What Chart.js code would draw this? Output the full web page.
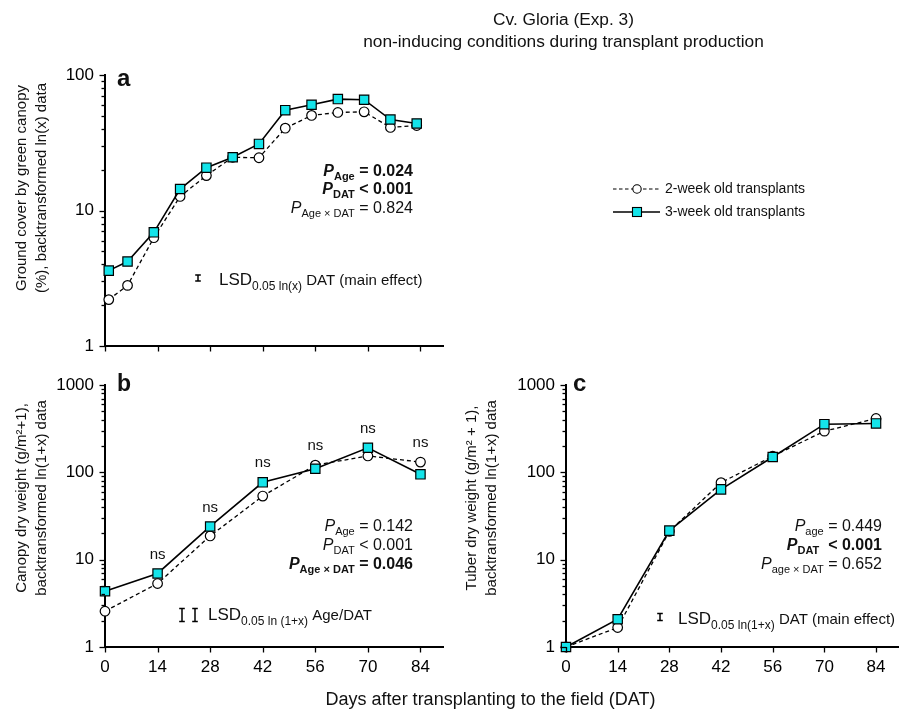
<!DOCTYPE html>
<html><head><meta charset="utf-8">
<script src="https://cdn.jsdelivr.net/npm/chart.js@4.4.1/dist/chart.umd.min.js"></script>
<style>
html,body{margin:0;padding:0;background:#fff;}
#wrap{position:relative;width:906px;height:712px;background:#fff;}
#wrap canvas{position:absolute;left:0;top:0;}
</style></head><body>
<div id="wrap">
<canvas id="ca" width="906" height="712"></canvas>
<canvas id="cb" width="906" height="712"></canvas>
<canvas id="cc" width="906" height="712"></canvas>
</div>
<script>
// ---------------- data ----------------
const daysA = [1, 6, 13, 20, 27, 34, 41, 48, 55, 62, 69, 76, 83];
const coverWeek2 = [2.2, 2.8, 6.3, 12.7, 18.1, 24.7, 24.5, 40.5, 50.3, 52.9, 53.5, 41.0, 42.4];
const coverWeek3 = [3.6, 4.2, 6.9, 14.4, 20.7, 24.7, 31.0, 55.0, 60.3, 66.4, 65.7, 46.9, 43.9];
const daysBC = [0, 14, 28, 42, 56, 70, 84];
const canopyWeek2 = [2.57, 5.33, 18.7, 53.5, 121, 154, 131];
const canopyWeek3 = [4.35, 6.95, 24.0, 76.8, 110, 191, 94.9];
const tuberWeek2 = [1.0, 1.67, 21.1, 76.2, 153, 296, 414];
const tuberWeek3 = [1.0, 2.08, 21.5, 63.8, 150, 356, 363];
const xTickValues = [0, 14, 28, 42, 56, 70, 84];
const yTicksA = [1, 10, 100];
const yTicksBC = [1, 10, 100, 1000];
const nsDays = [14, 28, 42, 56, 70, 84];
const seriesNames = ['2-week old transplants', '3-week old transplants'];

// ---------------- style ----------------
const FONT = '"Liberation Sans", Arial, Helvetica, sans-serif';
const CYAN = '#14e4ea';
Chart.defaults.font.family = FONT;
Chart.defaults.color = '#000';

function fontStr(size, st) {
  st = st || '';
  return (st.includes('i') ? 'italic ' : '') + (st.includes('b') ? 'bold ' : '') + size + 'px ' + FONT;
}
// segs: [text, size, style, dy]
function rich(ctx, segs, x, y, align) {
  let w = 0;
  const ws = segs.map(s => { ctx.font = fontStr(s[1], s[2]); const m = ctx.measureText(s[0]).width; w += m; return m; });
  let cx = align === 'right' ? x - w : (align === 'center' ? x - w / 2 : x);
  ctx.textAlign = 'left';
  ctx.textBaseline = 'alphabetic';
  segs.forEach((s, i) => { ctx.font = fontStr(s[1], s[2]); ctx.fillText(s[0], cx, y + (s[3] || 0)); cx += ws[i]; });
}
function ibar(ctx, x, y, h) {
  ctx.beginPath();
  ctx.moveTo(x, y - h / 2); ctx.lineTo(x, y + h / 2);
  ctx.moveTo(x - 2.8, y - h / 2); ctx.lineTo(x + 2.8, y - h / 2);
  ctx.moveTo(x - 2.8, y + h / 2); ctx.lineTo(x + 2.8, y + h / 2);
  ctx.stroke();
}

const annotPlugin = {
  id: 'annot',
  afterDraw(chart, args, o) {
    const ctx = chart.ctx;
    const ca = chart.chartArea;
    const xs = chart.scales.x, ys = chart.scales.y;
    ctx.save();
    ctx.strokeStyle = '#000';
    ctx.fillStyle = '#000';
    ctx.lineWidth = 1.3;
    // y ticks (major + minor) outward
    const maxExp = Math.round(Math.log10(ys.max));
    for (let d = 0; d <= maxExp; d++) {
      for (let m = 1; m <= 9; m++) {
        const v = m * Math.pow(10, d);
        if (v > ys.max + 1e-9) break;
        const py = Math.round(ys.getPixelForValue(v)) + 0.5;
        const len = m === 1 ? 5.5 : 3.5;
        ctx.beginPath(); ctx.moveTo(ca.left - len, py); ctx.lineTo(ca.left, py); ctx.stroke();
      }
    }
    // x ticks outward
    xTickValues.forEach(v => {
      const px = Math.round(xs.getPixelForValue(v)) + 0.5;
      ctx.beginPath(); ctx.moveTo(px, ca.bottom); ctx.lineTo(px, ca.bottom + 5.5); ctx.stroke();
    });
    ctx.fillStyle = '#111';
    // panel letter
    if (o.letter) { ctx.font = fontStr(o.letter.size, 'b'); ctx.textAlign = 'left'; ctx.textBaseline = 'alphabetic'; ctx.fillText(o.letter.t, o.letter.x, o.letter.y); }
    // y title
    if (o.ytitle) {
      o.ytitle.lines.forEach((t, i) => {
        ctx.save();
        ctx.translate(o.ytitle.x[i], o.ytitle.y);
        ctx.rotate(-Math.PI / 2);
        ctx.font = fontStr(15, '');
        ctx.textAlign = 'center'; ctx.textBaseline = 'middle';
        ctx.fillText(t, 0, 0);
        ctx.restore();
      });
    }
    // P values
    if (o.p) o.p.lines.forEach((segs, i) => rich(ctx, segs, o.p.x, o.p.ys[i] + 5.7, 'right'));
    // LSD
    if (o.lsd) {
      ctx.lineWidth = 1.5;
      o.lsd.bars.forEach(b => ibar(ctx, b[0], b[1], b[2]));
      rich(ctx, o.lsd.segs, o.lsd.x, o.lsd.y + 6, 'left');
    }
    // ns labels above the higher point
    if (o.ns) {
      ctx.font = fontStr(15, '');
      ctx.textAlign = 'center'; ctx.textBaseline = 'middle';
      const d0 = chart.data.datasets[0].data, d1 = chart.data.datasets[1].data;
      nsDays.forEach(day => {
        const a = d0.find(p => p.x === day), b = d1.find(p => p.x === day);
        const top = Math.max(a.y, b.y);
        ctx.fillText('ns', xs.getPixelForValue(day), ys.getPixelForValue(top) - 19);
      });
    }
    // legend
    if (o.legend) {
      const lx0 = 613, lx1 = 660, mx = 637;
      const rows = [{y: 189, dash: [3.5, 2.5], w: 1.2, name: seriesNames[0], circle: true},
                    {y: 212, dash: [], w: 1.6, name: seriesNames[1], circle: false}];
      rows.forEach(r => {
        ctx.save();
        ctx.setLineDash(r.dash); ctx.lineWidth = r.w; ctx.strokeStyle = '#000';
        ctx.beginPath(); ctx.moveTo(lx0, r.y); ctx.lineTo(lx1, r.y); ctx.stroke();
        ctx.setLineDash([]); ctx.lineWidth = 1.1;
        if (r.circle) { ctx.fillStyle = '#fff'; ctx.beginPath(); ctx.arc(mx, r.y, 4.2, 0, Math.PI * 2); ctx.fill(); ctx.stroke(); }
        else { ctx.fillStyle = CYAN; ctx.fillRect(mx - 4.5, r.y - 4.5, 9, 9); ctx.strokeRect(mx - 4.5, r.y - 4.5, 9, 9); }
        ctx.restore();
        ctx.fillStyle = '#111';
        ctx.font = fontStr(14, ''); ctx.textAlign = 'left'; ctx.textBaseline = 'middle';
        ctx.fillText(r.name, 665, r.y + 0.5);
      });
    }
    // figure titles
    if (o.titles) {
      ctx.fillStyle = '#111';
      ctx.font = fontStr(17.3, ''); ctx.textAlign = 'center'; ctx.textBaseline = 'middle';
      ctx.fillText('Cv. Gloria (Exp. 3)', 563.5, 20);
      ctx.fillText('non-inducing conditions during transplant production', 563.5, 42);
      ctx.font = fontStr(18, '');
      ctx.fillText('Days after transplanting to the field (DAT)', 490.5, 700);
    }
    ctx.restore();
  }
};

function datasets(xs, week2, week3) {
  return [
    { label: seriesNames[1], data: xs.map((x, i) => ({x: x, y: week3[i]})),
      borderColor: '#000', borderWidth: 1.6, tension: 0, clip: false,
      pointStyle: 'rect', pointRadius: 6.6, pointBackgroundColor: CYAN, pointBorderColor: '#000', pointBorderWidth: 1.2 },
    { label: seriesNames[0], data: xs.map((x, i) => ({x: x, y: week2[i]})),
      borderColor: '#000', borderWidth: 1.3, borderDash: [4, 3], tension: 0, clip: false,
      pointStyle: 'circle', pointRadius: 4.8, pointBackgroundColor: '#fff', pointBorderColor: '#000', pointBorderWidth: 1.2 }
  ];
}

function makeChart(id, cfg) {
  return new Chart(document.getElementById(id), {
    type: 'line',
    data: { datasets: datasets(cfg.xs, cfg.w2, cfg.w3) },
    options: {
      responsive: false, animation: false, devicePixelRatio: 1, events: [],
      layout: { padding: cfg.padding },
      plugins: { legend: { display: false }, tooltip: { enabled: false }, annot: cfg.annot },
      scales: {
        x: { type: 'linear', min: 0, max: 90,
             afterBuildTicks: s => { s.ticks = xTickValues.map(v => ({value: v})); },
             afterFit: s => { s.height = cfg.xh; },
             grid: { display: false, drawTicks: false },
             border: { display: true, color: '#000', width: 2 },
             ticks: { display: cfg.xlabels, padding: 10, maxRotation: 0, autoSkip: false, font: { size: 17 }, color: '#000', callback: v => String(v) } },
        y: { type: 'logarithmic', min: 1, max: cfg.ymax,
             afterBuildTicks: s => { s.ticks = cfg.yticks.map(v => ({value: v})); },
             afterFit: s => { s.width = cfg.yw; },
             grid: { display: false, drawTicks: false },
             border: { display: true, color: '#000', width: 2 },
             ticks: { padding: 11, autoSkip: false, font: { size: 17 }, color: '#000', callback: v => String(v) } }
      }
    },
    plugins: [annotPlugin]
  });
}

makeChart('ca', {
  xs: daysA, w2: coverWeek2, w3: coverWeek3, ymax: 100, yticks: yTicksA,
  padding: { left: 0, top: 75, right: 463, bottom: 346 }, xh: 20, yw: 105, xlabels: false,
  annot: {
    letter: { t: 'a', x: 117, y: 86, size: 24 },
    ytitle: { x: [22, 42], y: 188, lines: ['Ground cover by green canopy', '(%), backtransformed ln(x) data'] },
    p: { x: 413, ys: [170, 188.5, 207], lines: [
      [['P', 16, 'bi'], ['Age', 11, 'b', 4], [' = 0.024', 16, 'b']],
      [['P', 16, 'bi'], ['DAT', 11, 'b', 4], [' < 0.001', 16, 'b']],
      [['P', 16, 'i'], ['Age \u00d7 DAT', 11, '', 4], [' = 0.824', 16, '']]
    ]},
    lsd: { bars: [[198, 278, 6]], x: 219, y: 279, segs: [['LSD', 17, ''], ['0.05 ln(x)', 12, '', 5], [' DAT (main effect)', 15, '']] },
    legend: true
  }
});

makeChart('cb', {
  xs: daysBC, w2: canopyWeek2, w3: canopyWeek3, ymax: 1000, yticks: yTicksBC,
  padding: { left: 0, top: 385, right: 463, bottom: 35 }, xh: 30, yw: 105, xlabels: true,
  annot: {
    letter: { t: 'b', x: 117, y: 391, size: 23 },
    ytitle: { x: [22, 42], y: 498, lines: ['Canopy dry weight (g/m\u00b2+1),', 'backtransformed ln(1+x) data'] },
    p: { x: 413, ys: [525, 544, 563], lines: [
      [['P', 16, 'i'], ['Age', 11, '', 4], [' = 0.142', 16, '']],
      [['P', 16, 'i'], ['DAT', 11, '', 4], [' < 0.001', 16, '']],
      [['P', 16, 'bi'], ['Age \u00d7 DAT', 11, 'b', 4], [' = 0.046', 16, 'b']]
    ]},
    lsd: { bars: [[182, 615, 13], [195, 615, 13]], x: 208, y: 614, segs: [['LSD', 17, ''], ['0.05 ln (1+x)', 12, '', 5], [' Age/DAT', 15, '']] },
    ns: true
  }
});

makeChart('cc', {
  xs: daysBC, w2: tuberWeek2, w3: tuberWeek3, ymax: 1000, yticks: yTicksBC,
  padding: { left: 450, top: 385, right: 2, bottom: 35 }, xh: 30, yw: 116, xlabels: true,
  annot: {
    letter: { t: 'c', x: 573, y: 391, size: 24 },
    ytitle: { x: [472, 492], y: 498, lines: ['Tuber dry weight (g/m\u00b2 + 1),', 'backtransformed ln(1+x) data'] },
    p: { x: 882, ys: [525, 544, 563], lines: [
      [['P', 16, 'i'], ['age', 11, '', 4], [' = 0.449', 16, '']],
      [['P', 16, 'bi'], ['DAT', 11, 'b', 4], ['  < 0.001', 16, 'b']],
      [['P', 16, 'i'], ['age \u00d7 DAT', 11, '', 4], [' = 0.652', 16, '']]
    ]},
    lsd: { bars: [[660, 617, 7]], x: 678, y: 618, segs: [['LSD', 17, ''], ['0.05 ln(1+x)', 12, '', 5], [' DAT (main effect)', 15, '']] },
    titles: true
  }
});
</script>
</body></html>
